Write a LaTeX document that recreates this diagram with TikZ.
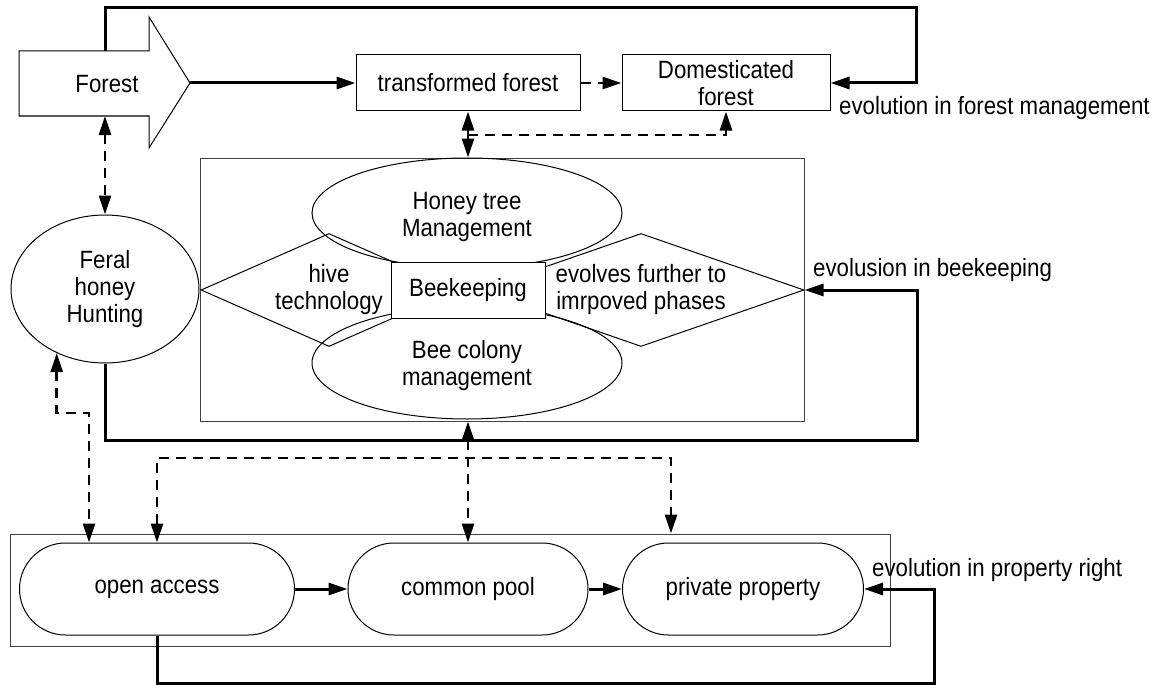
\documentclass[tikz,border=0pt]{standalone}
\usepackage{fontspec}
\setmainfont{Liberation Sans}[FakeStretch=0.89]
\usetikzlibrary{arrows.meta,shapes.geometric}

\begin{document}
\begin{tikzpicture}[x=1pt,y=-1pt,
    every node/.style={font=\fontsize{25}{27}\selectfont},
    box/.style={draw,line width=1pt,align=center,inner sep=0pt},
    frame/.style={draw=black!75,line width=1pt,inner sep=0pt},
    oval/.style={draw,ellipse,line width=1pt,align=center,inner sep=0pt},
    capsule/.style={draw,rounded corners=46pt,line width=1pt,minimum height=92pt,inner sep=0pt},
    rhomb/.style={draw,diamond,line width=1pt,align=center,inner sep=0pt,minimum height=113pt},
    solidarrow/.style={line width=3pt,-{Triangle[length=19pt,width=12pt]}},
    dasharrow/.style={line width=2.6pt,dash pattern=on 10pt off 7pt},
    onetip/.style={-{Triangle[length=19pt,width=12pt]}},
    tip/.style={{Triangle[length=19pt,width=12pt]}-{Triangle[length=19pt,width=12pt]}},
    label/.style={anchor=base west,inner sep=0pt}]
\useasboundingbox (0,0) rectangle (1163,685);

% forest arrow shape
\draw[line width=1pt] (19,51) -- (149,51) -- (149,17) -- (190,83) -- (149,148)
    -- (149,116) -- (19,116) -- cycle;
\node (forest) at (107,84) {Forest};
\coordinate (ftip) at (190,83);
\coordinate (ftop) at (105,51);
\coordinate (fbot) at (105,116);

\node[box,minimum width=224pt,minimum height=56pt] (trans) at (468,83) {transformed forest};
\node[box,minimum width=208pt,minimum height=56pt] (domest) at (726,83) {Domesticated\\forest};
\node[label] (lforest) at (839,114) {evolution in forest management};

\node[oval,minimum width=188pt,minimum height=148pt] (feral) at (105,289) {Feral\\honey\\Hunting};

% beekeeping block
\node[frame,minimum width=604pt,minimum height=263pt] (bkframe) at (502,289.5) {};
\node[rhomb,minimum width=256pt,aspect=2.27] (hive) at (329,290) {hive\\technology};
\node[rhomb,minimum width=326pt,aspect=2.88] (evolve) at (641,290) {evolves further to\\imrpoved phases};
\node[oval,minimum width=310pt,minimum height=110pt] (honey) at (467,213) {};
\node[align=center] (honeytxt) at (467,217) {Honey tree\\Management};
\node[oval,minimum width=310pt,minimum height=112pt] (colony) at (467,363) {};
\node[align=center] (colonytxt) at (467,366) {Bee colony\\management};
\node[box,fill=white,minimum width=154pt,minimum height=56pt] (beekeep) at (468,290) {Beekeeping};
\node[label] (lbee) at (813,276) {evolusion in beekeeping};

% property rights
\node[frame,minimum width=880pt,minimum height=112pt] (prframe) at (450,590) {};
\node[capsule,minimum width=275pt] (open) at (157,589) {open access};
\node[capsule,minimum width=240pt] (common) at (468,589) {common pool};
\node[capsule,minimum width=241pt] (private) at (743,589) {private property};
\node[label] (lprop) at (872,576) {evolution in property right};

\coordinate (fcorner) at (916,8);
\coordinate (tjoin) at (468,135);
\coordinate (bcorner) at (917,440);
\coordinate (fkink) at (89,413);
\coordinate (dright) at (671,458);
\coordinate (pcorner) at (934,683);

% connectors
\draw[solidarrow] (ftip) -- (trans.west);
\draw[dasharrow,onetip] (trans.east) -- (domest.west);
\draw[solidarrow] (ftop) |- (fcorner) |- (domest.east);
\draw[dasharrow,tip] (trans.south) -- (trans.south |- bkframe.north);
\draw[dasharrow,onetip] (tjoin) -| (domest.south);
\draw[dasharrow,tip] (fbot) -- (feral.north);
\draw[solidarrow] (feral.south) |- (bcorner) |- (evolve.east);
\draw[dasharrow,tip] (feral.233) |- (fkink) -- (fkink |- open.north);
\draw[dasharrow,tip] (open.north) |- (dright) -- (dright |- prframe.north);
\draw[dasharrow,tip] (common.north |- bkframe.south) -- (common.north);
\draw[solidarrow] (open.east) -- (common.west);
\draw[solidarrow] (common.east) -- (private.west);
\draw[solidarrow] (open.south) |- (pcorner) |- (private.east);
\end{tikzpicture}
\end{document}
